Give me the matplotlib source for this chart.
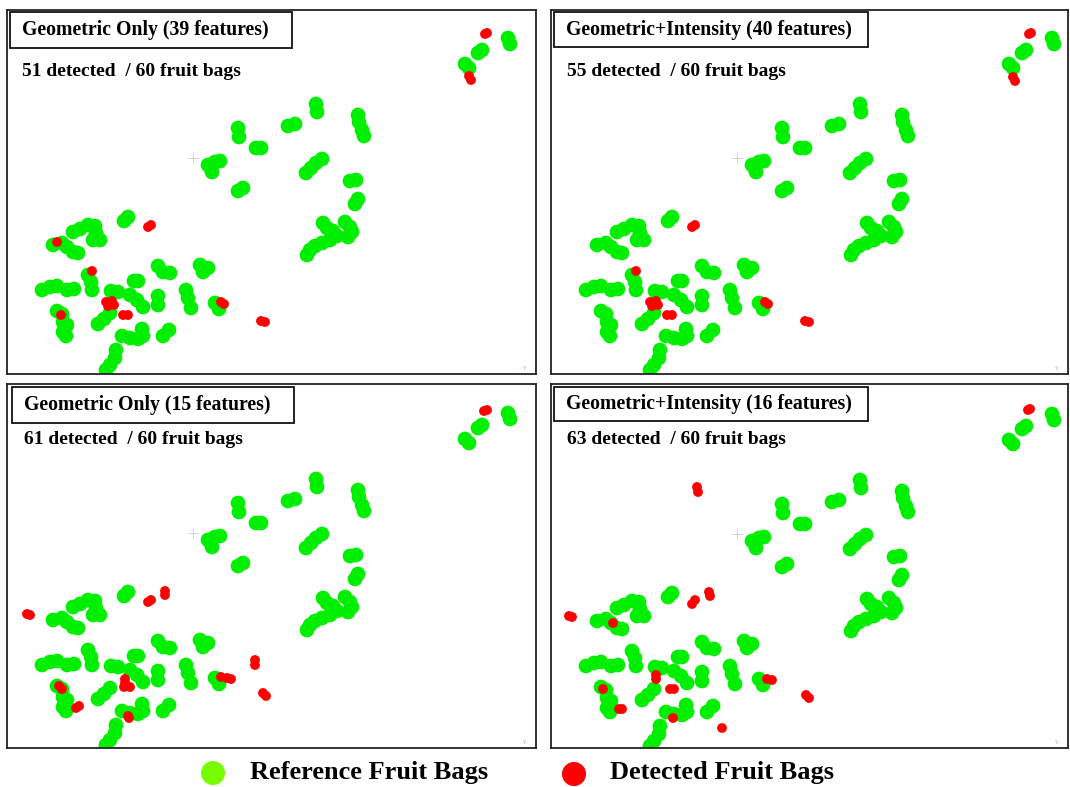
import matplotlib
matplotlib.use("Agg")
import matplotlib.pyplot as plt
from matplotlib.patches import Rectangle

W, H = 1070, 787

# reference fruit bag blobs (pixel coords in the top-left panel's frame), same in every panel
green_x = [478, 482, 465, 469, 508, 510,
           316, 317, 288, 295, 238, 239, 256, 261, 208, 215, 220, 212, 238, 243,
           306, 311, 316, 322, 358, 359, 362, 364, 350, 356, 355, 358,
           323, 327, 333, 337, 330, 322, 315, 310, 307, 345, 350, 352, 348,
           124, 128, 73, 80, 88, 95, 96, 93, 100, 53, 62, 67, 73, 78,
           88, 91, 92, 42, 50, 57, 67, 74, 111, 118, 134, 138, 130, 137, 143,
           158, 163, 170, 200, 208, 203, 158, 158, 186, 188, 191, 215, 219,
           98, 104, 110, 57, 62, 63, 67, 63, 66, 122, 130, 142, 143, 138,
           163, 169, 116, 115, 110, 106]
green_y = [53, 50, 64, 68, 38, 44,
           104, 112, 126, 124, 128, 137, 148, 148, 165, 162, 161, 172, 191, 188,
           173, 168, 163, 159, 115, 122, 130, 136, 181, 180, 204, 199,
           223, 228, 231, 236, 240, 243, 246, 250, 255, 222, 227, 232, 237,
           221, 217, 232, 229, 225, 226, 233, 240, 240, 245, 243, 247, 252, 253,
           275, 282, 290, 290, 287, 286, 290, 289, 291, 292, 281, 281, 295, 300, 307,
           266, 272, 273, 265, 268, 272, 296, 305, 290, 298, 308, 303, 309,
           324, 319, 313, 311, 314, 322, 325, 332, 336, 336, 338, 329, 336, 339,
           336, 330, 350, 358, 365, 370]

# detected fruit bags per panel
red_tl_x = [485, 487, 469, 471, 148, 151, 57, 92, 106, 112, 108, 114, 123, 128, 61, 221, 224, 261, 265]
red_tl_y = [34, 33, 76, 80, 227, 225, 242, 271, 302, 301, 306, 305, 315, 315, 315, 302, 304, 321, 322]
red_tr_x = [485, 487, 469, 471, 148, 151, 92, 106, 112, 108, 114, 123, 128, 221, 224, 261, 265]
red_tr_y = [34, 33, 77, 81, 227, 225, 271, 302, 301, 306, 305, 315, 315, 302, 304, 321, 322]
red_bl_x = [484, 487, 27, 30, 148, 151, 165, 165, 255, 255, 221, 227, 231, 263, 266,
            125, 125, 124, 130, 59, 62, 76, 79, 128, 129]
red_bl_y = [36, 35, 239, 240, 227, 225, 216, 220, 285, 290, 302, 303, 304, 318, 321,
            304, 308, 312, 312, 311, 314, 333, 331, 341, 343]
red_br_x = [484, 486, 153, 154, 148, 151, 165, 166, 25, 28, 69, 59, 75, 78, 112, 112,
            126, 130, 129, 223, 228, 262, 265, 178]
red_br_y = [34, 33, 111, 116, 228, 224, 216, 220, 240, 241, 247, 313, 333, 333, 299, 303,
            313, 313, 342, 303, 304, 319, 322, 352]

titles = ["Geometric Only (39 features)", "Geometric+Intensity (40 features)",
          "Geometric Only (15 features)", "Geometric+Intensity (16 features)"]
counts = ["51 detected  / 60 fruit bags", "55 detected  / 60 fruit bags",
          "61 detected  / 60 fruit bags", "63 detected  / 60 fruit bags"]

fig = plt.figure(figsize=(W / 100, H / 100), dpi=100)
fig.patch.set_facecolor("white")

def px_axes(x0, y0, x1, y1):
    return fig.add_axes([x0 / W, 1 - y1 / H, (x1 - x0) / W, (y1 - y0) / H])

# (figure box, data offset) for each panel
panels = [((7, 10, 536, 374), (0, 0), red_tl_x, red_tl_y),
          ((551, 10, 1068, 374), (544, 0), red_tr_x, red_tr_y),
          ((7, 384, 536, 748), (0, 375), red_bl_x, red_bl_y),
          ((551, 384, 1068, 748), (544, 376), red_br_x, red_br_y)]

for (box, (dx, dy), rx, ry) in panels:
    ax = px_axes(*box)
    ax.set_xlim(box[0] - dx, box[2] - dx)
    ax.set_ylim(box[3] - dy, box[1] - dy)
    ax.set_xticks([])
    ax.set_yticks([])
    for s in ax.spines.values():
        s.set_linewidth(1.3)
        s.set_color("#222222")
    ax.scatter(green_x, green_y, s=112, color="#00ee00", edgecolors="none", zorder=2)
    ax.scatter(rx, ry, s=50, color="#ff0000", edgecolors="none", zorder=3)
    ax.plot([193], [158], marker="+", ms=7, mew=0.6, color="#cccccc", zorder=1)
    ax.text(box[2] - dx - 14, box[3] - dy - 4, "Y", fontsize=4, color="#66dd66")

# overlay for title boxes and legend
ov = fig.add_axes([0, 0, 1, 1])
ov.set_xlim(0, W)
ov.set_ylim(H, 0)
ov.axis("off")
ov.patch.set_alpha(0)

tboxes = [(10, 12, 292, 48), (554, 12, 868, 47), (12, 387, 294, 423), (554, 387, 868, 421)]
ctext = [(22, 71), (567, 71), (24, 440), (567, 439)]
for i in range(4):
    x0, y0, x1, y1 = tboxes[i]
    ov.add_patch(Rectangle((x0, y0), x1 - x0, y1 - y0, fill=True, facecolor="white",
                           edgecolor="#111111", lw=1.3))
    ov.text(x0 + 12, (y0 + y1) / 2, titles[i], fontsize=14.2, fontweight="bold",
            family="Liberation Serif", va="center", ha="left")
    ov.text(ctext[i][0], ctext[i][1], counts[i], fontsize=14, fontweight="bold",
            family="Liberation Serif", va="center", ha="left")

ov.scatter([213], [773], s=300, color="#77ff00", edgecolors="none")
ov.scatter([574], [774], s=300, color="#ff0000", edgecolors="none")
ov.text(250, 773, "Reference Fruit Bags", fontsize=19, fontweight="bold",
        family="Liberation Serif", va="center", ha="left")
ov.text(610, 773, "Detected Fruit Bags", fontsize=19, fontweight="bold",
        family="Liberation Serif", va="center", ha="left")

fig.savefig("out.png", dpi=100)
